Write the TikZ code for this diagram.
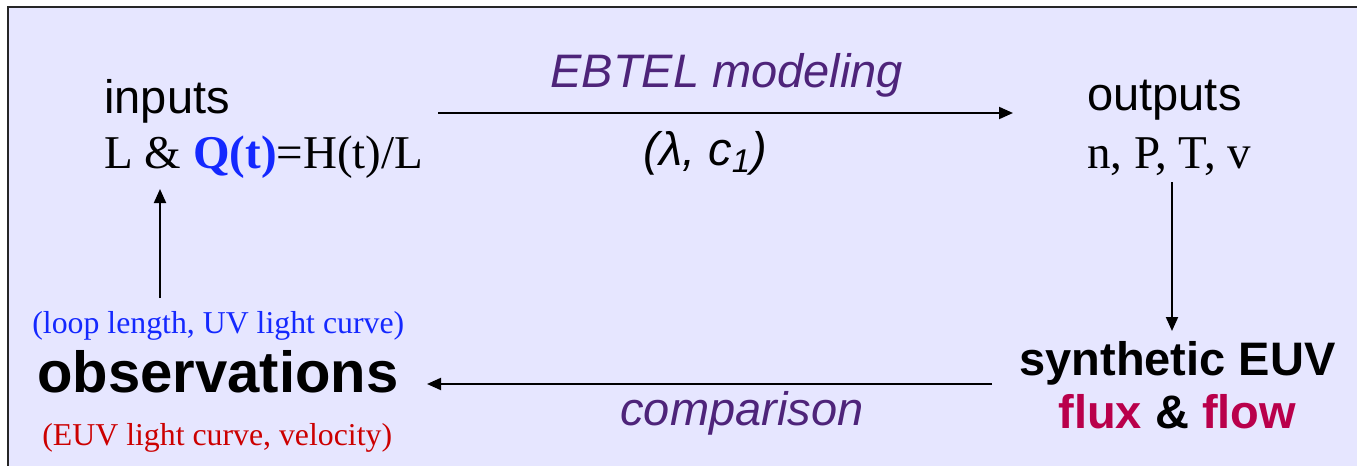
\documentclass[tikz,border=0pt]{standalone}
\usepackage{fontspec}
\setmainfont{Liberation Serif}
\setsansfont{Liberation Sans}
\usepackage{xcolor}
\usetikzlibrary{arrows.meta,positioning}
\definecolor{PanelFill}{RGB}{230, 230, 255}
\definecolor{ModelPurple}{RGB}{78, 36, 122}
\definecolor{InputBlue}{RGB}{20, 40, 255}
\definecolor{ObsRed}{RGB}{204, 0, 0}
\definecolor{FluxCrimson}{RGB}{185, 0, 75}

\tikzset{
    txt/.style={anchor=base west, inner sep=0pt},
    bigsans/.style={txt, font=\fontsize{23.5}{28}\selectfont\sffamily},
    bigserif/.style={txt, font=\fontsize{23.5}{28}\selectfont\rmfamily},
    smallserif/.style={txt, font=\fontsize{15.9}{19}\selectfont\rmfamily},
    flowarrow/.style={line width=1pt, -{Triangle[length=7pt, width=6pt]}}
}

\begin{document}
\begin{tikzpicture}[x=0.5pt, y=-0.5pt]
\useasboundingbox (0,0) rectangle (1357,466);
\draw[fill=PanelFill, line width=1pt, draw=black!85] (8,7) rectangle (1400,500);

% model side
\node[bigsans] (inputs) at (104,113) {inputs};
\node[bigserif] (insrc) at (104,168) {L \& \textcolor{InputBlue}{\textbf{Q(t)}}=H(t)/L};
\node[bigsans] (outputs) at (1087,110) {outputs};
\node[bigserif] (outvals) at (1087,168) {n, P, T, v};
\node[bigsans, font=\fontsize{23.5}{28}\selectfont\sffamily\itshape, text=ModelPurple] (ebtel) at (550,87) {EBTEL modeling};
\node[bigsans, font=\fontsize{23.5}{28}\selectfont\sffamily\itshape] (params) at (643,165) {(λ, c\textsubscript{1})};

% observation side
\node[bigsans, font=\fontsize{23.5}{28}\selectfont\sffamily\bfseries] (synth) at (1019,375) {synthetic EUV};
\node[bigsans, font=\fontsize{23.5}{28}\selectfont\sffamily\bfseries] (fluxflow) at (1058,428) {\textcolor{FluxCrimson}{flux} \& \textcolor{FluxCrimson}{flow}};
\node[bigsans, font=\fontsize{23.5}{28}\selectfont\sffamily\itshape, text=ModelPurple] (compare) at (620,425) {comparison};
\node[txt, font=\fontsize{29}{34}\selectfont\sffamily\bfseries] (obs) at (37,392) {observations};
\node[smallserif, text=InputBlue] (obsin) at (32,333) {(loop length, UV light curve)};
\node[smallserif, text=ObsRed] (obsout) at (42,445) {(EUV light curve, velocity)};

% connectors
\coordinate (modelA) at (438,113);
\coordinate (modelB) at (1013,113);
\coordinate (synthA) at (1172,182);
\coordinate (synthB) at (1172,331);
\coordinate (compA) at (992,384);
\coordinate (compB) at (427,384);
\coordinate (obsA) at (160,298);
\coordinate (obsB) at (160,189);
\draw[flowarrow] (modelA) -- (modelB);
\draw[flowarrow] (synthA) -- (synthB);
\draw[flowarrow] (compA) -- (compB);
\draw[flowarrow] (obsA) -- (obsB);
\end{tikzpicture}
\end{document}
